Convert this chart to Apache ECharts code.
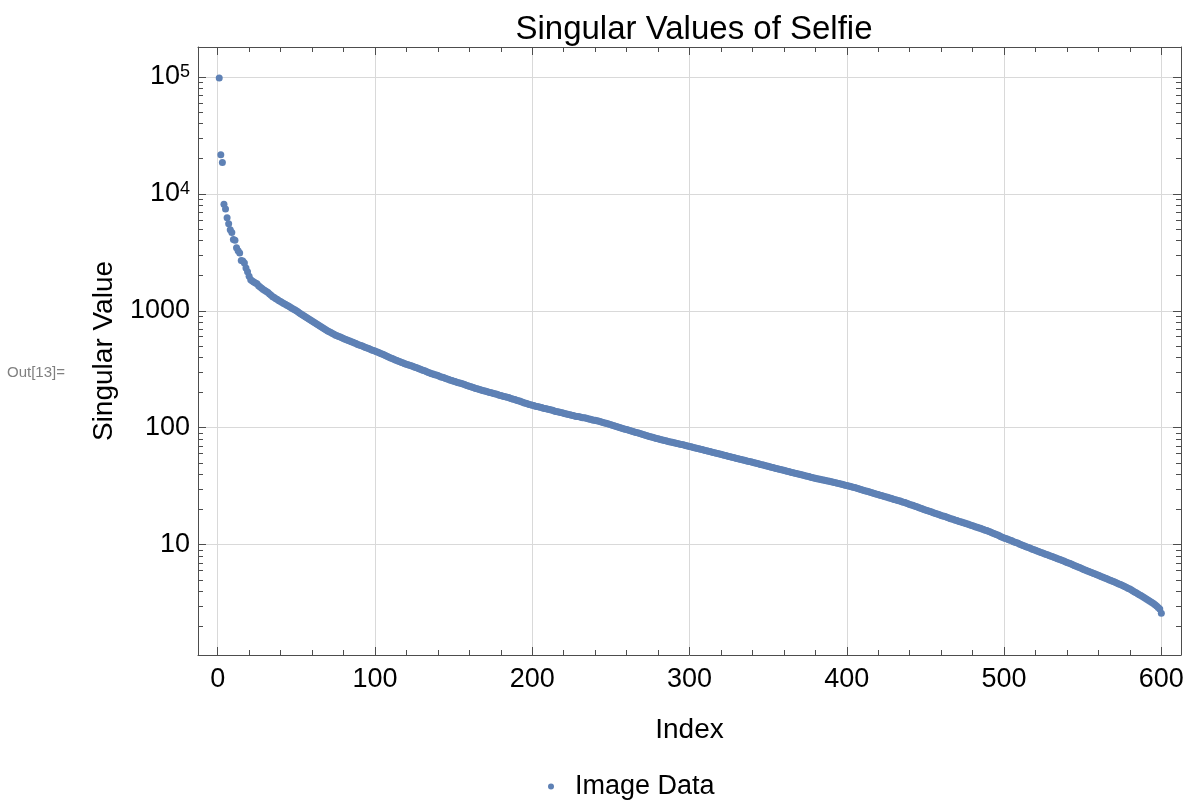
<!DOCTYPE html>
<html>
<head>
<meta charset="utf-8">
<script src="https://cdn.jsdelivr.net/npm/echarts@6/dist/echarts.min.js"></script>
<style>
  html, body { margin: 0; padding: 0; background: #fff; }
  #chart { width: 1189px; height: 800px; }
</style>
</head>
<body>
<div id="chart"></div>
<script>
// Singular values of the selfie image matrix, in descending order (index 1..600)
const singularValues = [
  98000, 21600, 18500, 8130, 7420, 6250, 5560, 4930, 4680, 4070,
  4000, 3450, 3260, 3120, 2690, 2670, 2560, 2320, 2160, 1970,
  1840, 1800, 1760, 1730, 1700, 1640, 1600, 1560, 1520, 1490,
  1460, 1430, 1390, 1360, 1320, 1300, 1270, 1250, 1220, 1200,
  1175, 1156, 1135, 1117, 1096, 1076, 1057, 1038, 1019, 1000,
  979, 959, 940, 920, 902, 883, 867, 849, 834, 817,
  802, 785, 771, 755, 741, 728, 713, 700, 685, 673,
  662, 652, 640, 630, 619, 611, 603, 596, 587, 579,
  571, 565, 557, 551, 543, 537, 530, 524, 516, 511,
  505, 499, 492, 486, 481, 475, 469, 463, 457, 452,
  446, 441, 435, 430, 424, 418, 412, 406, 401, 395,
  390, 385, 380, 375, 370, 366, 361, 357, 353, 349,
  345, 342, 338, 335, 331, 327, 324, 319, 316, 312,
  308, 305, 301, 297, 294, 290, 288, 284, 282, 279,
  275, 272, 270, 267, 264, 261, 258, 255, 253, 250,
  248, 245, 243, 241, 239, 236, 234, 231, 229, 226,
  224, 222, 220, 217, 215, 213, 211, 209, 207, 206,
  204, 202, 200, 199, 197, 195, 194, 192, 190, 189,
  187, 185, 184, 182, 181, 179, 177, 175, 174, 172,
  170, 169, 167, 165, 163, 162, 160, 158, 157, 156,
  155, 153, 152, 151, 150, 149, 147, 146, 145, 144,
  143, 142, 141, 139, 138, 137, 136, 135, 134, 133,
  132, 131, 130, 129, 128, 127, 126, 125, 125, 124,
  123, 122, 122, 121, 120, 119, 118, 117, 116, 116,
  115, 114, 113, 112, 111, 110, 109, 108, 107, 106,
  105, 104, 103, 102, 101, 100, 99.1, 98.2, 97.3, 96.4,
  95.5, 94.6, 93.8, 92.9, 92.0, 91.2, 90.4, 89.5, 88.7, 87.9,
  87.1, 86.3, 85.5, 84.7, 83.9, 83.2, 82.4, 81.8, 81.1, 80.4,
  79.8, 79.1, 78.5, 77.8, 77.3, 76.7, 76.0, 75.5, 75.0, 74.5,
  74.0, 73.5, 72.9, 72.4, 71.9, 71.4, 70.8, 70.3, 69.7, 69.2,
  68.7, 68.1, 67.6, 67.0, 66.5, 66.1, 65.5, 65.0, 64.4, 64.0,
  63.5, 63.0, 62.5, 61.9, 61.5, 61.1, 60.5, 60.1, 59.6, 59.2,
  58.7, 58.2, 57.8, 57.3, 56.9, 56.5, 56.0, 55.6, 55.1, 54.7,
  54.3, 53.8, 53.5, 53.0, 52.6, 52.2, 51.8, 51.4, 51.1, 50.7,
  50.2, 49.9, 49.4, 49.1, 48.6, 48.3, 47.9, 47.5, 47.1, 46.8,
  46.3, 46.0, 45.6, 45.3, 44.9, 44.6, 44.2, 43.9, 43.5, 43.2,
  42.9, 42.5, 42.2, 41.8, 41.5, 41.2, 40.8, 40.6, 40.3, 40.0,
  39.7, 39.4, 39.1, 38.7, 38.5, 38.2, 37.8, 37.6, 37.2, 37.0,
  36.7, 36.5, 36.2, 36.0, 35.7, 35.5, 35.2, 35.0, 34.8, 34.5,
  34.3, 34.0, 33.8, 33.6, 33.3, 33.1, 32.8, 32.6, 32.3, 32.1,
  31.8, 31.6, 31.3, 31.0, 30.8, 30.5, 30.2, 29.9, 29.6, 29.4,
  29.1, 28.8, 28.6, 28.3, 28.1, 27.8, 27.5, 27.3, 27.0, 26.8,
  26.5, 26.3, 26.1, 25.8, 25.6, 25.4, 25.1, 24.9, 24.7, 24.4,
  24.2, 24.0, 23.8, 23.6, 23.3, 23.1, 22.9, 22.6, 22.4, 22.1,
  21.9, 21.7, 21.4, 21.2, 21.0, 20.7, 20.5, 20.3, 20.0, 19.8,
  19.6, 19.4, 19.2, 19.0, 18.8, 18.6, 18.4, 18.2, 18.0, 17.8,
  17.6, 17.5, 17.3, 17.1, 16.9, 16.7, 16.6, 16.4, 16.2, 16.1,
  15.9, 15.7, 15.6, 15.4, 15.3, 15.1, 15.0, 14.8, 14.7, 14.5,
  14.4, 14.2, 14.1, 13.9, 13.8, 13.6, 13.5, 13.3, 13.2, 13.0,
  12.9, 12.7, 12.5, 12.4, 12.2, 12.1, 11.9, 11.7, 11.6, 11.4,
  11.3, 11.2, 11.0, 10.9, 10.8, 10.6, 10.5, 10.4, 10.3, 10.1,
  10.0, 9.86, 9.75, 9.62, 9.51, 9.40, 9.29, 9.16, 9.06, 8.95,
  8.85, 8.75, 8.63, 8.53, 8.43, 8.34, 8.24, 8.15, 8.05, 7.96,
  7.87, 7.78, 7.69, 7.60, 7.52, 7.43, 7.33, 7.24, 7.14, 7.06,
  6.97, 6.89, 6.79, 6.71, 6.62, 6.53, 6.46, 6.37, 6.30, 6.21,
  6.12, 6.05, 5.97, 5.90, 5.82, 5.75, 5.68, 5.61, 5.53, 5.47,
  5.40, 5.33, 5.26, 5.20, 5.13, 5.06, 5.00, 4.93, 4.88, 4.81,
  4.74, 4.68, 4.62, 4.56, 4.50, 4.43, 4.37, 4.30, 4.23, 4.17,
  4.09, 4.02, 3.95, 3.88, 3.81, 3.74, 3.67, 3.60, 3.53, 3.47,
  3.40, 3.33, 3.27, 3.21, 3.14, 3.06, 2.99, 2.91, 2.82, 2.59
];

// Axis ticks
const xMajorTicks = [0, 100, 200, 300, 400, 500, 600];
const xMinorTicks = [20, 40, 60, 80, 120, 140, 160, 180, 220, 240, 260, 280,
  320, 340, 360, 380, 420, 440, 460, 480, 520, 540, 560, 580];
const yMajorTicks = [10, 100, 1000, 10000, 100000];
const yMajorLabels = ['10', '100', '1000', '10^4', '10^5'];
const yMinorTicks = [];
[1, 10, 100, 1000, 10000].forEach(function (decade) {
  for (let k = 2; k <= 9; k++) yMinorTicks.push(k * decade);
});

const seriesName = 'Image Data';
const titleText = 'Singular Values of Selfie';
const xName = 'Index';
const yName = 'Singular Value';

const FONT = "'Liberation Sans', Arial, sans-serif";
const FRAME = '#4d4d4d';
const GRID_LINE = '#d9d9d9';
const POINT = '#5e81b5';

const X_MIN = -12.5, X_MAX = 612.5;
const Y_MIN = 1.14, Y_MAX = 180000;

function yLabel(v) {
  const i = yMajorTicks.indexOf(v);
  const s = i >= 0 ? yMajorLabels[i] : String(v);
  const p = s.indexOf('^');
  if (p < 0) return '{b|' + s + '}';
  return '{b|' + s.slice(0, p) + '}{e|' + s.slice(p + 1) + '}';
}

function xAxisDef(position, ticks, len, major, withLabels) {
  return {
    type: 'value', position: position, min: X_MIN, max: X_MAX,
    axisLine: { show: major, onZero: false, lineStyle: { color: FRAME, width: 1 } },
    axisTick: { show: true, inside: true, length: len, customValues: ticks,
      lineStyle: { color: FRAME, width: 1 } },
    axisLabel: withLabels ? {
      show: true, customValues: ticks, fontSize: 27, color: '#000',
      fontFamily: FONT, margin: 11
    } : { show: false },
    splitLine: { show: withLabels, lineStyle: { color: GRID_LINE, width: 1 } },
    minorTick: { show: false }, minorSplitLine: { show: false }
  };
}

function yAxisDef(position, ticks, len, major, withLabels) {
  return {
    type: 'log', logBase: 10, position: position, min: Y_MIN, max: Y_MAX,
    axisLine: { show: major, onZero: false, lineStyle: { color: FRAME, width: 1 } },
    axisTick: { show: true, inside: true, length: len, customValues: ticks,
      lineStyle: { color: FRAME, width: 1 } },
    axisLabel: withLabels ? {
      show: true, customValues: ticks, color: '#000', margin: 8,
      formatter: yLabel,
      rich: {
        b: { fontSize: 27, fontFamily: FONT, color: '#000' },
        e: { fontSize: 18, fontFamily: FONT, color: '#000', verticalAlign: 'top' }
      }
    } : { show: false },
    splitLine: { show: withLabels, lineStyle: { color: GRID_LINE, width: 1 } },
    minorTick: { show: false }, minorSplitLine: { show: false }
  };
}

const chart = echarts.init(document.getElementById('chart'), null, { renderer: 'canvas' });

const xAxes = [
  Object.assign(xAxisDef('bottom', xMajorTicks, 8, true, true), {
    name: xName, nameLocation: 'middle', nameGap: 61,
    nameTextStyle: { fontSize: 28, color: '#000', fontFamily: FONT }
  }),
  xAxisDef('bottom', xMinorTicks, 5, false, false),
  xAxisDef('top', xMajorTicks, 8, true, false),
  xAxisDef('top', xMinorTicks, 5, false, false)
];
const yAxes = [
  Object.assign(yAxisDef('left', yMajorTicks, 8, true, true), {
    name: yName, nameLocation: 'middle', nameGap: 80, nameRotate: 90,
    nameTextStyle: { fontSize: 28, color: '#000', fontFamily: FONT }
  }),
  yAxisDef('left', yMinorTicks, 5, false, false),
  yAxisDef('right', yMajorTicks, 8, true, false),
  yAxisDef('right', yMinorTicks, 5, false, false)
];

chart.setOption({
  animation: false,
  backgroundColor: '#fff',
  textStyle: { fontFamily: FONT },
  title: {
    text: titleText, left: 689, top: 8, textAlign: 'center',
    textStyle: { fontSize: 33, fontWeight: 'normal', color: '#000', fontFamily: FONT }
  },
  grid: { left: 198, right: 8, top: 47, bottom: 145, containLabel: false },
  legend: {
    data: [seriesName], left: 543, top: 768, icon: 'circle',
    itemWidth: 6, itemHeight: 6,
    textStyle: { fontSize: 27, color: '#000', fontFamily: FONT, padding: [0, 0, 0, 16] }
  },
  graphic: [{
    type: 'text', left: 7, top: 365,
    style: { text: 'Out[13]=', fontSize: 15, fill: '#808080', fontFamily: FONT }
  }],
  xAxis: xAxes,
  yAxis: yAxes,
  series: [{
    name: seriesName, type: 'scatter', xAxisIndex: 0, yAxisIndex: 0,
    symbol: 'circle', symbolSize: 7,
    itemStyle: { color: POINT, opacity: 1 },
    data: singularValues.map(function (v, i) { return [i + 1, v]; })
  }]
});
</script>
</body>
</html>
